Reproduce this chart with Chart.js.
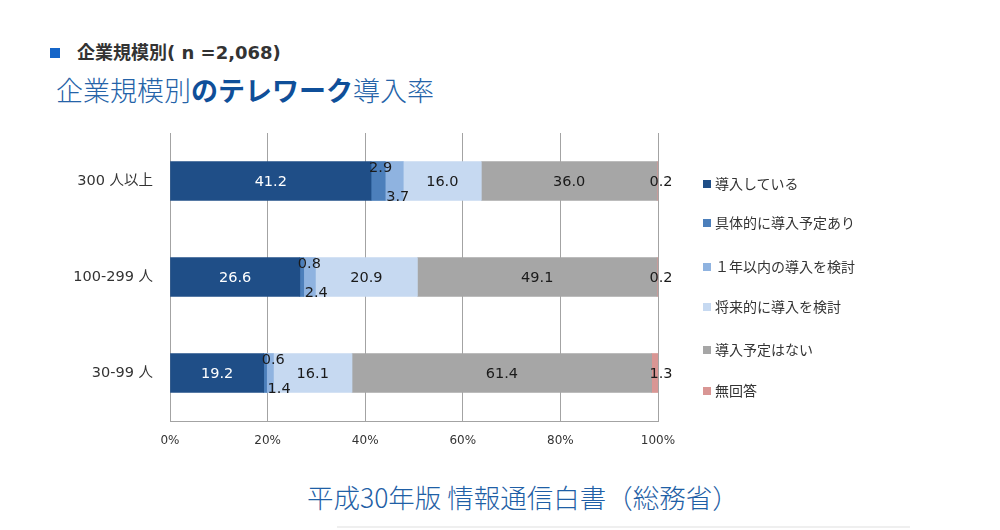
<!DOCTYPE html>
<html><head><meta charset="utf-8">
<script src="https://cdn.jsdelivr.net/npm/chart.js@4"></script>
<style>
html,body{margin:0;padding:0;background:#fff;}
body{width:1000px;height:530px;overflow:hidden;position:relative;font-family:"DejaVu Sans","Noto Sans CJK JP",sans-serif;}
#h1{position:absolute;left:50px;top:39px;font-size:18px;font-weight:bold;color:#333;font-family:"DejaVu Sans","Noto Sans CJK JP",sans-serif;line-height:28px;white-space:nowrap;}
#h1 .sq{display:inline-block;width:10px;height:10px;background:#1565c8;margin-right:17px;vertical-align:1px;}
#h2{position:absolute;left:56px;top:73px;font-size:27px;color:#2563a8;font-family:"Noto Sans CJK JP",sans-serif;line-height:34px;white-space:nowrap;font-weight:300;}
#h2 b{font-weight:bold;color:#0f4f99;}
#wrap{position:absolute;left:0;top:120px;width:1000px;height:345px;}
#legend{position:absolute;left:703px;top:0;}
.li{position:absolute;left:0;white-space:nowrap;font-size:14px;color:#333;font-family:"Noto Sans CJK JP",sans-serif;line-height:18px;}
.li span.b{display:inline-block;width:8px;height:8px;margin-right:4px;vertical-align:1px;}
#foot{position:absolute;left:307px;top:479px;font-size:26.5px;color:#1f5fa6;font-family:"Noto Sans CJK JP",sans-serif;line-height:36px;white-space:nowrap;font-weight:300;}
#rule{position:absolute;left:337px;top:526px;width:573px;height:2px;background:#efefef;}
</style></head><body>
<div id="h1"><span class="sq"></span>企業規模別( n =2,068)</div>
<div id="h2">企業規模別<b>のテレワーク</b>導入率</div>
<div id="wrap"><canvas id="c" width="1000" height="345"></canvas></div>
<div id="legend"></div>
<div id="foot">平成30年版 情報通信白書（総務省）</div>
<div id="rule"></div>
<script>
const categories = ["300 人以上", "100-299 人", "30-99 人"];
const seriesNames = ["導入している", "具体的に導入予定あり", "１年以内の導入を検討", "将来的に導入を検討", "導入予定はない", "無回答"];
const implemented = [41.2, 26.6, 19.2];
const planned = [2.9, 0.8, 0.6];
const withinYear = [3.7, 2.4, 1.4];
const future = [16.0, 20.9, 16.1];
const noPlan = [36.0, 49.1, 61.4];
const noAnswer = [0.2, 0.2, 1.3];
const xTickValues = [0, 20, 40, 60, 80, 100];

const seriesValues = [implemented, planned, withinYear, future, noPlan, noAnswer];
const colors = ["#1f4e87", "#4c7fbb", "#8fb3e0", "#c6d9f1", "#a6a6a6", "#d99694"];
const labelColors = ["#ffffff", "#1a1a1a", "#1a1a1a", "#1a1a1a", "#1a1a1a", "#1a1a1a"];
const labelModes = ["center", "top", "bottom", "center", "center", "end"];
const legendRows = [183, 222, 266, 306, 349, 390];

// HTML legend built from series names/colors
const lg = document.getElementById('legend');
seriesNames.forEach((n, i) => {
  const d = document.createElement('div');
  d.className = 'li';
  d.style.top = (legendRows[i] - 9) + 'px';
  d.innerHTML = '<span class="b" style="background:' + colors[i] + '"></span>' + n;
  lg.appendChild(d);
});

const labelPlugin = {
  id: 'segLabels',
  afterDatasetsDraw(chart) {
    const ctx = chart.ctx;
    ctx.save();
    ctx.font = '14.5px "DejaVu Sans", sans-serif';
    ctx.textBaseline = 'middle';
    chart.data.datasets.forEach((ds, di) => {
      const meta = chart.getDatasetMeta(di);
      meta.data.forEach((bar, i) => {
        const v = ds.data[i];
        const txt = v.toFixed(1);
        const mode = labelModes[di];
        const top = bar.y - bar.height / 2, bottom = bar.y + bar.height / 2;
        ctx.fillStyle = labelColors[di];
        if (mode === 'center') {
          ctx.textAlign = 'center';
          ctx.fillText(txt, (bar.x + bar.base) / 2, bar.y + 1);
        } else if (mode === 'top') {
          ctx.textAlign = 'left';
          ctx.fillText(txt, bar.base - 2, top + 7);
        } else if (mode === 'bottom') {
          ctx.textAlign = 'left';
          ctx.fillText(txt, bar.base + 1, bottom - 3);
        } else {
          ctx.textAlign = 'center';
          ctx.fillText(txt, bar.x + 3, bar.y + 1);
        }
      });
    });
    ctx.restore();
  }
};

new Chart(document.getElementById('c'), {
  type: 'bar',
  data: {
    labels: categories,
    datasets: seriesValues.map((vals, i) => ({
      label: seriesNames[i],
      data: vals,
      backgroundColor: colors[i],
      borderWidth: 0,
      barThickness: 39
    }))
  },
  options: {
    indexAxis: 'y',
    responsive: false,
    animation: false,
    layout: { padding: { left: 0, right: 342, top: 13, bottom: 4 } },
    plugins: { legend: { display: false }, tooltip: { enabled: false } },
    scales: {
      x: {
        stacked: true, min: 0, max: 100,
        afterBuildTicks(scale) { scale.ticks = xTickValues.map(v => ({ value: v })); },
        afterFit(scale) { scale.height = 40; scale.paddingLeft = 0; scale.paddingRight = 0; },
        ticks: { callback: v => v + '%', color: '#333', font: { family: '"DejaVu Sans", sans-serif', size: 12 }, padding: 13, maxRotation: 0 },
        grid: { color: '#a3a3a3', lineWidth: 1, drawTicks: false },
        border: { color: '#a3a3a3', width: 1 }
      },
      y: {
        stacked: true,
        afterFit(scale) { scale.width = 170; scale.paddingTop = 0; scale.paddingBottom = 0; },
        ticks: { color: '#333', font: { family: '"DejaVu Sans", "Noto Sans CJK JP", sans-serif', size: 14.5 }, padding: 17 },
        grid: { display: false, drawTicks: false },
        border: { color: '#a3a3a3', width: 1 }
      }
    }
  },
  plugins: [labelPlugin]
});
</script>
</body></html>
